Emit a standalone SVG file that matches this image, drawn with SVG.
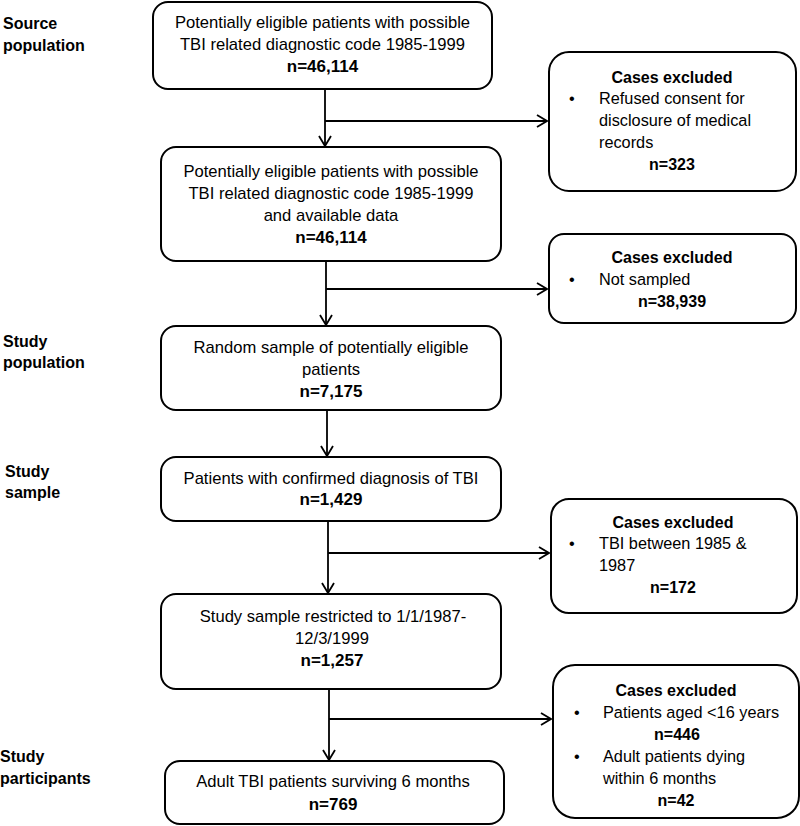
<svg xmlns="http://www.w3.org/2000/svg" width="800" height="826" viewBox="0 0 800 826">
<defs>
<style>
.box{fill:#fff;stroke:#000;stroke-width:2}
.t{font-family:"Liberation Sans",Arial,sans-serif;font-size:16.6px;fill:#000}
.r{font-size:16.3px}
.c{text-anchor:middle}
.b{font-weight:bold;font-size:17px}
.h{font-size:16px}
.rn{font-size:16px}
.lbl{font-family:"Liberation Sans",Arial,sans-serif;font-size:16px;font-weight:bold;fill:#000}
.ln{stroke:#000;stroke-width:1.8;fill:none}
</style>
<marker id="arr" viewBox="0 0 12 14" refX="11" refY="7" markerWidth="12" markerHeight="14" markerUnits="userSpaceOnUse" orient="auto">
<path d="M1,1 L11,7 L1,13" fill="none" stroke="#000" stroke-width="1.8"/>
</marker>
</defs>
<rect width="800" height="826" fill="#fff"/>

<g id="labels">
<text class="lbl" x="3" y="29">Source</text>
<text class="lbl" x="3" y="51">population</text>
<text class="lbl" x="3" y="347">Study</text>
<text class="lbl" x="3" y="368">population</text>
<text class="lbl" x="5" y="477">Study</text>
<text class="lbl" x="5" y="498">sample</text>
<text class="lbl" x="0" y="762">Study</text>
<text class="lbl" x="0" y="784">participants</text>
</g>

<g id="connectors">
<line class="ln" x1="325" y1="89" x2="325" y2="146" marker-end="url(#arr)"/>
<line class="ln" x1="325" y1="121" x2="547" y2="121" marker-end="url(#arr)"/>
<line class="ln" x1="326" y1="261" x2="326" y2="325" marker-end="url(#arr)"/>
<line class="ln" x1="326" y1="289" x2="547" y2="289" marker-end="url(#arr)"/>
<line class="ln" x1="327" y1="410" x2="327" y2="456" marker-end="url(#arr)"/>
<line class="ln" x1="328" y1="521" x2="328" y2="593" marker-end="url(#arr)"/>
<line class="ln" x1="328" y1="553" x2="549" y2="553" marker-end="url(#arr)"/>
<line class="ln" x1="329" y1="689" x2="329" y2="760" marker-end="url(#arr)"/>
<line class="ln" x1="329" y1="719" x2="551" y2="719" marker-end="url(#arr)"/>
</g>

<g id="n1">
<rect class="box" x="153" y="2" width="339" height="87" rx="15"/>
<text class="t c" x="322.5" y="28">Potentially eligible patients with possible</text>
<text class="t c" x="322.5" y="50">TBI related diagnostic code 1985-1999</text>
<text class="t c b" x="322.5" y="72">n=46,114</text>
</g>

<g id="n2">
<rect class="box" x="161" y="147" width="340" height="114" rx="15"/>
<text class="t c" x="331" y="177">Potentially eligible patients with possible</text>
<text class="t c" x="331" y="199">TBI related diagnostic code 1985-1999</text>
<text class="t c" x="331" y="221">and available data</text>
<text class="t c b" x="331" y="243">n=46,114</text>
</g>

<g id="n3">
<rect class="box" x="161" y="326" width="340" height="84" rx="15"/>
<text class="t c" x="331" y="353">Random sample of potentially eligible</text>
<text class="t c" x="331" y="375">patients</text>
<text class="t c b" x="331" y="397">n=7,175</text>
</g>

<g id="n4">
<rect class="box" x="161" y="457" width="340" height="64" rx="15"/>
<text class="t c" x="331" y="484">Patients with confirmed diagnosis of TBI</text>
<text class="t c b" x="331" y="505">n=1,429</text>
</g>

<g id="n5">
<rect class="box" x="161" y="594" width="340" height="95" rx="15"/>
<text class="t c" x="333" y="622">Study sample restricted to 1/1/1987-</text>
<text class="t c" x="332" y="644">12/3/1999</text>
<text class="t c b" x="332" y="666">n=1,257</text>
</g>

<g id="n6">
<rect class="box" x="165" y="761" width="339" height="63" rx="15"/>
<text class="t c" x="333" y="787">Adult TBI patients surviving 6 months</text>
<text class="t c b" x="333" y="810">n=769</text>
</g>

<g id="e1">
<rect class="box" x="549" y="52" width="247" height="139" rx="20"/>
<text class="t c b h" x="672" y="83">Cases excluded</text>
<text class="t r" x="569" y="104">•</text>
<text class="t r" x="599" y="104">Refused consent for</text>
<text class="t r" x="599" y="126">disclosure of medical</text>
<text class="t r" x="599" y="148">records</text>
<text class="t c b rn" x="672" y="170">n=323</text>
</g>

<g id="e2">
<rect class="box" x="549" y="234" width="247" height="89" rx="15"/>
<text class="t c b h" x="672" y="263">Cases excluded</text>
<text class="t r" x="569" y="285">•</text>
<text class="t r" x="599" y="285">Not sampled</text>
<text class="t c b rn" x="672" y="307">n=38,939</text>
</g>

<g id="e3">
<rect class="box" x="551" y="499" width="246" height="114" rx="18"/>
<text class="t c b h" x="673" y="528">Cases excluded</text>
<text class="t r" x="569" y="549">•</text>
<text class="t r" x="599" y="549">TBI between 1985 &amp;</text>
<text class="t r" x="599" y="571">1987</text>
<text class="t c b rn" x="673" y="593">n=172</text>
</g>

<g id="e4">
<rect class="box" x="553" y="665" width="246" height="153" rx="22"/>
<text class="t c b h" x="676" y="696">Cases excluded</text>
<text class="t r" x="574" y="718">•</text>
<text class="t r" x="603" y="718">Patients aged &lt;16 years</text>
<text class="t c b rn" x="677" y="740">n=446</text>
<text class="t r" x="574" y="762">•</text>
<text class="t r" x="603" y="762">Adult patients dying</text>
<text class="t r" x="603" y="784">within 6 months</text>
<text class="t c b rn" x="676" y="806">n=42</text>
</g>
</svg>
